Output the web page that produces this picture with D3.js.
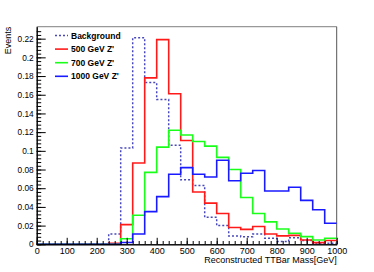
<!DOCTYPE html>
<html>
<head>
<meta charset="utf-8">
<script src="https://cdn.jsdelivr.net/npm/d3@7"></script>
<style>
  body { margin: 0; background: #fff; }
  text { font-family: "Liberation Sans", Arial, sans-serif; }
</style>
</head>
<body>
<div id="chart"></div>
<script>
// ---- DATA ----
// bin lower edges, 40 GeV wide, 0..1000
const binEdges = d3.range(0, 1000, 40);
const binWidth = 40;

const background = [0, 0, 0, 0, 0, 0, 0.011, 0.103, 0.221, 0.173, 0.155, 0.106, 0.069, 0.063,
  0.029, 0.020, 0.009, 0.008, 0.011, 0.0065, 0.003, 0.007, 0.004, 0.001, 0.001];
const z500 = [0, 0, 0, 0, 0, 0, 0.001, 0.021, 0.087, 0.178, 0.219, 0.161, 0.111, 0.056,
  0.044, 0.033, 0.018, 0.016, 0.019, 0.011, 0.009, 0.0095, 0.0046, 0.0018, 0.004];
const z700 = [0, 0, 0, 0, 0, 0, 0, 0.006, 0.031, 0.077, 0.104, 0.122, 0.117, 0.110,
  0.105, 0.093, 0.080, 0.050, 0.033, 0.024, 0.0164, 0.0118, 0.0082, 0.0046, 0.0064];
const z1000 = [0, 0, 0, 0, 0, 0, 0, 0.002, 0.011, 0.035, 0.051, 0.075, 0.082, 0.075,
  0.072, 0.090, 0.068, 0.076, 0.079, 0.057, 0.057, 0.061, 0.047, 0.037, 0.0225];

const seriesNames = ["Background", "500 GeV Z'", "700 GeV Z'", "1000 GeV Z'"];
const seriesValues = [background, z500, z700, z1000];
const seriesColors = ["#4848bb", "#ff1a1a", "#1aff1a", "#1a1aff"];

const xTicks = d3.range(0, 1001, 100);
const yTicks = [0, 0.02, 0.04, 0.06, 0.08, 0.1, 0.12, 0.14, 0.16, 0.18, 0.2, 0.22];

// ---- SVG ----
const width = 374, height = 272;
const margin = { top: 26.7, right: 37.3, bottom: 27.7, left: 36.7 };

const svg = d3.select("#chart").append("svg")
  .attr("width", width)
  .attr("height", height);

const x = d3.scaleLinear().domain([0, 1000]).range([margin.left, width - margin.right]);
const y = d3.scaleLinear().domain([0, 0.2328]).range([height - margin.bottom, margin.top]);

// ---- FRAME ----
svg.append("line")
  .attr("x1", x(0)).attr("x2", x(1000))
  .attr("y1", y.range()[1]).attr("y2", y.range()[1])
  .attr("stroke", "#999").attr("stroke-width", 1.2);
svg.append("line")
  .attr("x1", x(1000)).attr("x2", x(1000))
  .attr("y1", y.range()[1]).attr("y2", y(0))
  .attr("stroke", "#555").attr("stroke-width", 1);

// ---- HISTOGRAMS ----
const line = d3.line()
  .x(d => x(d[0]))
  .y(d => y(d[1]))
  .curve(d3.curveStepAfter);

seriesValues.forEach((vals, i) => {
  const pts = binEdges.map((e, j) => [e, vals[j]]);
  pts.push([binEdges[binEdges.length - 1] + binWidth, vals[vals.length - 1]]);
  svg.append("path")
    .datum(pts)
    .attr("fill", "none")
    .attr("stroke", seriesColors[i])
    .attr("stroke-width", i === 0 ? 1.5 : 1.6)
    .attr("stroke-dasharray", i === 0 ? "2,2" : null)
    .attr("d", line);
});

// ---- AXES ----
const xAxis = svg.append("g")
  .attr("transform", `translate(0,${y(0)})`)
  .call(d3.axisBottom(x).tickValues(xTicks).tickSize(-6.5).tickSizeOuter(0)
    .tickPadding(3).tickFormat(d3.format("d")));
svg.append("g")
  .attr("transform", `translate(0,${y(0)})`)
  .call(d3.axisBottom(x).tickValues(d3.range(0, 1001, 20)).tickSize(-3.3)
    .tickSizeOuter(0).tickFormat(""));

const yAxis = svg.append("g")
  .attr("transform", `translate(${x(0)},0)`)
  .call(d3.axisLeft(y).tickValues(yTicks).tickSize(-9).tickSizeOuter(0)
    .tickPadding(3).tickFormat(d => d === 0 ? "0" : d3.format("~g")(d)));
svg.append("g")
  .attr("transform", `translate(${x(0)},0)`)
  .call(d3.axisLeft(y).tickValues(d3.range(0, 58).map(k => k * 0.004)).tickSize(-4.5)
    .tickSizeOuter(0).tickFormat(""));

svg.selectAll(".domain").attr("stroke", "#000");
svg.selectAll(".tick line").attr("stroke", "#000");
xAxis.selectAll("text").attr("font-size", 9).attr("fill", "#000");
yAxis.selectAll("text").attr("font-size", 8.3).attr("fill", "#000");

// ---- TITLES ----
svg.append("text")
  .attr("x", x(1000))
  .attr("y", 262.5)
  .attr("text-anchor", "end")
  .attr("font-size", 9)
  .text("Reconstructed TTBar Mass[GeV]");

svg.append("text")
  .attr("transform", `translate(10.5,${y.range()[1]}) rotate(-90)`)
  .attr("text-anchor", "end")
  .attr("font-size", 9)
  .text("Events");

// ---- LEGEND ----
const legend = svg.append("g");
seriesNames.forEach((name, i) => {
  const ly = 35.5 + i * 13.6;
  legend.append("line")
    .attr("x1", 55).attr("x2", 68)
    .attr("y1", ly).attr("y2", ly)
    .attr("stroke", seriesColors[i])
    .attr("stroke-width", i === 0 ? 1.5 : 1.6)
    .attr("stroke-dasharray", i === 0 ? "2,2" : null);
  legend.append("text")
    .attr("x", 71)
    .attr("y", ly + 3)
    .attr("font-size", 8.5)
    .attr("font-weight", "bold")
    .text(name);
});
</script>
</body>
</html>
